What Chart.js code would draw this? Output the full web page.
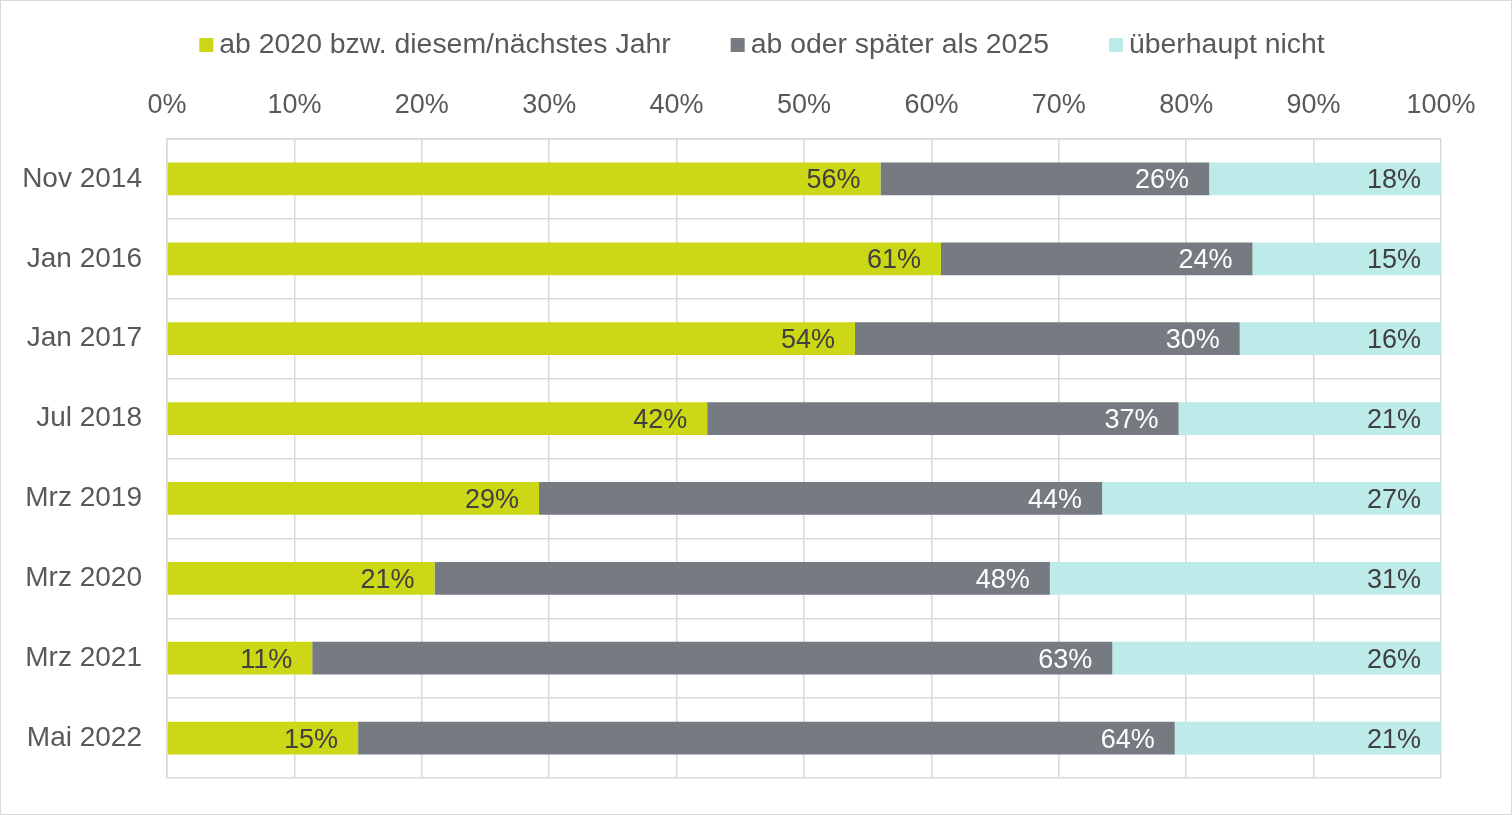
<!DOCTYPE html>
<html lang="de">
<head>
<meta charset="utf-8">
<title>Umfrage</title>
<script src="https://cdn.jsdelivr.net/npm/chart.js@4.4.1/dist/chart.umd.min.js"></script>
<style>
  html, body { margin: 0; padding: 0; background: #fff; }
  #chart { display: block; outline: 1px solid #d9d9d9; outline-offset: -1px; }
</style>
</head>
<body>
<canvas id="chart" width="1512" height="815"></canvas>
<script>
// Survey waves (y axis)
const categories = ["Nov 2014", "Jan 2016", "Jan 2017", "Jul 2018", "Mrz 2019", "Mrz 2020", "Mrz 2021", "Mai 2022"];

// Shares in percent
const soonValues  = [56.0, 60.75, 54.0, 42.4, 29.2, 21.0, 11.4, 15.0];
const laterValues = [25.8, 24.45, 30.2, 37.0, 44.2, 48.3, 62.8, 64.1];
const neverValues = [18.2, 14.8, 15.8, 20.6, 26.6, 30.7, 25.8, 20.9];

const seriesNames = ["ab 2020 bzw. diesem/nächstes Jahr", "ab oder später als 2025", "überhaupt nicht"];
const xTicks = [0, 10, 20, 30, 40, 50, 60, 70, 80, 90, 100];

const COLORS = ["#CCD815", "#767B81", "#BDEBEA"];
const LABEL_COLORS = ["#404040", "#ffffff", "#404040"];
const FONT = "'Liberation Sans', Arial, sans-serif";
const TEXT = "#595959";

// Draws the percentage at the right end of each segment
const barLabels = {
  id: "barLabels",
  afterDatasetsDraw(chart) {
    const ctx = chart.ctx;
    ctx.save();
    ctx.font = `27px ${FONT}`;
    ctx.textAlign = "right";
    ctx.textBaseline = "middle";
    chart.data.datasets.forEach((ds, i) => {
      chart.getDatasetMeta(i).data.forEach((bar, j) => {
        ctx.fillStyle = LABEL_COLORS[i];
        ctx.fillText(Math.round(ds.data[j]) + "%", bar.x - 20, bar.y + 2);
      });
    });
    ctx.restore();
  },
};

// Legend row at the top, centred
const topLegend = {
  id: "topLegend",
  afterDraw(chart) {
    const ctx = chart.ctx;
    ctx.save();
    ctx.font = `28.4px ${FONT}`;
    ctx.textBaseline = "middle";
    const box = 14, gap = 6, itemGap = 60;
    const widths = chart.data.datasets.map(ds => box + gap + ctx.measureText(ds.label).width);
    const total = widths.reduce((a, b) => a + b, 0) + itemGap * (widths.length - 1);
    let x = chart.width / 2 - total / 2 + 6;
    const y = 45;
    chart.data.datasets.forEach((ds, i) => {
      ctx.fillStyle = ds.backgroundColor;
      ctx.fillRect(x, y - 7, box, box);
      ctx.fillStyle = TEXT;
      ctx.fillText(ds.label, x + box + gap, y);
      x += widths[i] + itemGap;
    });
    ctx.restore();
  },
};

const values = [soonValues, laterValues, neverValues];

new Chart(document.getElementById("chart"), {
  type: "bar",
  data: {
    labels: categories,
    datasets: values.map((v, i) => ({
      label: seriesNames[i],
      data: v,
      backgroundColor: COLORS[i],
      borderWidth: 0,
      barPercentage: 0.41,
      categoryPercentage: 1,
    })),
  },
  options: {
    indexAxis: "y",
    responsive: false,
    animation: false,
    devicePixelRatio: 1,
    layout: { padding: { top: 80, left: 0, right: 71, bottom: 37 } },
    plugins: {
      legend: { display: false },
      tooltip: { enabled: false },
    },
    scales: {
      x: {
        position: "top",
        stacked: true,
        min: 0,
        max: 100,
        afterBuildTicks: s => { s.ticks = xTicks.map(v => ({ value: v })); },
        afterFit: s => { s.height = 59; s.paddingLeft = 0; s.paddingRight = 0; },
        ticks: {
          callback: v => v + "%",
          color: TEXT,
          font: { family: FONT, size: 27 },
          padding: 17,
          maxRotation: 0,
        },
        grid: { color: "#d9d9d9", lineWidth: 1.5, drawTicks: false },
        border: { color: "#d9d9d9", width: 1.5 },
      },
      y: {
        stacked: true,
        afterFit: s => { s.width = 167; s.paddingTop = 0; s.paddingBottom = 0; },
        ticks: {
          color: TEXT,
          font: { family: FONT, size: 28 },
          padding: 25,
        },
        grid: { color: "#d9d9d9", lineWidth: 1.5, drawTicks: false },
        border: { color: "#d9d9d9", width: 1.5 },
      },
    },
  },
  plugins: [barLabels, topLegend],
});
</script>
</body>
</html>
